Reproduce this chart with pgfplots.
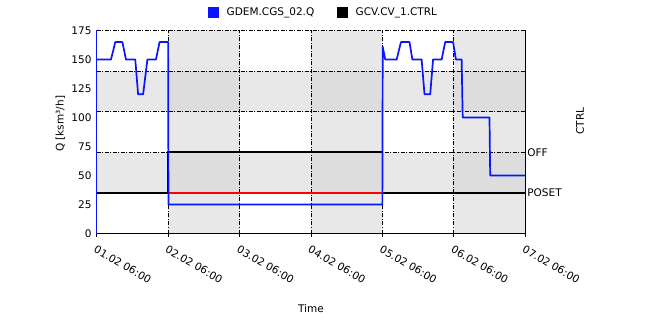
\documentclass[border=0pt]{standalone}
\usepackage{fontspec}
\setmainfont{DejaVu Sans}
\usepackage{pgfplots}
\pgfplotsset{compat=1.18}
\definecolor{bandA}{HTML}{E8E8E8}
\definecolor{bandB}{HTML}{DDDDDD}
\definecolor{qblue}{HTML}{0A14FF}
\pgfplotsset{
  common/.style={
    at={(0,0)}, anchor=south west, scale only axis,
    width=428.5pt, height=203pt,
    xmin=0, xmax=6, ymin=0, ymax=175,
    clip=false,
  },
  dashdotgrid/.style={black, line width=0.6pt, dash pattern=on 4pt off 1.5pt on 1pt off 1.5pt},
}
\begin{document}
\begin{tikzpicture}[font=\fontsize{10.5}{12.5}\selectfont]
\path[use as bounding box] (-96.7pt,-90.5pt) rectangle (559.3pt,233.5pt);
% background bands
\begin{axis}[common, hide axis]
  \fill[bandA] (axis cs:1,0) rectangle (axis cs:2,175);
  \fill[bandA] (axis cs:3,0) rectangle (axis cs:4,175);
  \fill[bandA] (axis cs:5,0) rectangle (axis cs:6,175);
  \fill[bandA] (axis cs:0,35) rectangle (axis cs:6,70);
  \fill[bandA] (axis cs:0,105) rectangle (axis cs:6,140);
  \fill[bandB] (axis cs:1,35) rectangle (axis cs:2,70);
  \fill[bandB] (axis cs:3,35) rectangle (axis cs:4,70);
  \fill[bandB] (axis cs:5,35) rectangle (axis cs:6,70);
  \fill[bandB] (axis cs:1,105) rectangle (axis cs:2,140);
  \fill[bandB] (axis cs:3,105) rectangle (axis cs:4,140);
  \fill[bandB] (axis cs:5,105) rectangle (axis cs:6,140);
\end{axis}
% main axis
\begin{axis}[common,
  axis x line*=bottom, axis y line*=left,
  axis line style={-},
  x axis line style={black, line width=1pt},
  y axis line style={qblue, line width=1pt},
  xtick={0,1,2,3,4,5,6},
  xticklabels={01.02 06:00,02.02 06:00,03.02 06:00,04.02 06:00,05.02 06:00,06.02 06:00,07.02 06:00},
  x tick label style={rotate=-30, anchor=north west, inner sep=1pt},
  xticklabel shift=7pt,
  ytick={0,25,...,175},
  y tick label style={inner sep=2pt},
  /pgf/number format/assume math mode=true,
  tick align=outside,
  major tick length=3pt,
  xtick style={black, line width=0.8pt},
  ytick style={draw=none},
  xmajorgrids=true,
  grid style={dashdotgrid},
  extra y ticks={35,70,105,140,175},
  extra y tick labels={},
  extra y tick style={grid=major, tick style={draw=none}},
  xlabel={Time},
  xlabel style={at={(axis description cs:0.5,-0.372)}, anchor=center},
  ylabel={Q [ksm³/h]},
  ylabel style={at={(axis description cs:-0.085,0.54)}, anchor=center},
  legend columns=2,
  legend style={at={(axis description cs:0.26,1.089)}, anchor=west, draw=none, fill=none, inner sep=0pt,
    /tikz/every odd column/.append style={column sep=6pt},
    /tikz/every even column/.append style={column sep=21pt}},
]
  \addlegendimage{legend image code/.code={\fill[qblue] (0pt,-5pt) rectangle (10pt,5pt);}}
  \addlegendentry{GDEM.CGS\_02.Q}
  \addlegendimage{legend image code/.code={\fill[black] (0pt,-5pt) rectangle (10pt,5pt);}}
  \addlegendentry{GCV.CV\_1.CTRL}
  % setpoint (red)
  \addplot[red, line width=2.2pt, forget plot] coordinates {(0,35) (6,35)};
  % CTRL (black)
  \addplot[black, line width=1.6pt, forget plot] coordinates {(0,35) (1,35) (1,70) (4,70) (4,35) (6,35)};
  % Q (blue)
  \addplot[qblue, line width=1.7pt, line join=round, forget plot] coordinates {
    (0,150) (0.2,150) (0.26,165) (0.36,165) (0.41,150) (0.54,150) (0.58,120) (0.65,120)
    (0.71,150) (0.83,150) (0.88,165) (1.0,165) (1.005,25) (4.0,25) (4.005,161) (4.04,150)
    (4.2,150) (4.26,165) (4.38,165) (4.42,150) (4.55,150) (4.59,120) (4.67,120) (4.71,150)
    (4.83,150) (4.88,165) (4.99,165) (5.03,150) (5.11,150) (5.125,100) (5.5,100) (5.51,50) (6,50)};
\end{axis}
% right axis
\begin{axis}[common,
  axis y line*=right, axis x line=none,
  axis line style={-},
  y axis line style={black, line width=1pt},
  ytick={35,70}, yticklabels={POSET,OFF},
  ytick style={draw=none},
  y tick label style={inner sep=2pt},
  ylabel={CTRL},
  ylabel style={at={(axis description cs:1.128,0.554)}, anchor=center, rotate=0},
]
\end{axis}
\end{tikzpicture}
\end{document}
